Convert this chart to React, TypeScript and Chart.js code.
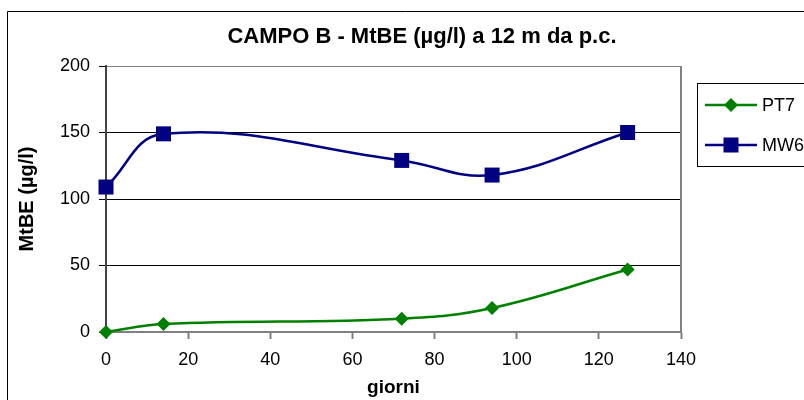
import React, { useEffect, useRef } from 'react';
import { Chart, registerables } from 'chart.js';

Chart.register(...registerables);

// ---- data ----
const days = [0, 14, 72, 94, 127];
const pt7Values = [0, 6, 10, 18, 47];
const mw6Values = [109, 149, 129, 118, 150];
const seriesNames = ['PT7', 'MW6'];
const chartTitle = 'CAMPO B - MtBE (µg/l) a 12 m da p.c.';
const xAxisTitle = 'giorni';
const yAxisTitle = 'MtBE (µg/l)';
const xRange = [0, 140];
const xStep = 20;
const yRange = [0, 200];
const yStep = 50;

const FONT = '"Liberation Sans", Arial, sans-serif';
const GREEN = '#008000';
const NAVY = '#000080';

const decor = {
  id: 'decor',
  beforeDatasetsDraw(chart: any) {
    const { ctx, chartArea } = chart;
    ctx.save();
    ctx.strokeStyle = '#808080';
    ctx.lineWidth = 2;
    ctx.beginPath();
    ctx.moveTo(chartArea.right, chartArea.top);
    ctx.lineTo(chartArea.right, chartArea.bottom);
    ctx.stroke();
    ctx.restore();
  },
  afterDraw(chart: any) {
    const { ctx } = chart;
    ctx.save();
    // outer frame
    ctx.strokeStyle = '#000';
    ctx.lineWidth = 1;
    ctx.beginPath();
    ctx.moveTo(7.5, 400);
    ctx.lineTo(7.5, 11.5);
    ctx.lineTo(804, 11.5);
    ctx.stroke();
    // title
    ctx.fillStyle = '#000';
    ctx.font = `bold 22px ${FONT}`;
    ctx.textAlign = 'center';
    ctx.textBaseline = 'alphabetic';
    ctx.fillText(chartTitle, 422, 43);
    // legend box
    ctx.strokeStyle = '#000';
    ctx.lineWidth = 1;
    ctx.strokeRect(697.5, 83.5, 200, 83);
    const rows = [105, 145];
    chart.data.datasets.forEach((ds: any, i: number) => {
      const y = rows[i];
      ctx.strokeStyle = ds.borderColor;
      ctx.lineWidth = 2.5;
      ctx.beginPath();
      ctx.moveTo(705, y);
      ctx.lineTo(757, y);
      ctx.stroke();
      ctx.fillStyle = ds.pointBackgroundColor;
      if (ds.pointStyle === 'rectRot') {
        const r = 7;
        ctx.beginPath();
        ctx.moveTo(731, y - r);
        ctx.lineTo(731 + r, y);
        ctx.lineTo(731, y + r);
        ctx.lineTo(731 - r, y);
        ctx.closePath();
        ctx.fill();
      } else {
        ctx.fillRect(731 - 7.5, y - 7.5, 15, 15);
      }
      ctx.fillStyle = '#000';
      ctx.font = `18px ${FONT}`;
      ctx.textAlign = 'left';
      ctx.textBaseline = 'middle';
      ctx.fillText(ds.label, 762, y + 1);
    });
    ctx.restore();
  },
};

export default function App() {
  const ref = useRef<HTMLCanvasElement>(null);
  useEffect(() => {
    if (!ref.current) return;
    const chart = new Chart(ref.current, {
      type: 'line',
      data: {
        datasets: [
          {
            label: seriesNames[0],
            data: days.map((d, i) => ({ x: d, y: pt7Values[i] })),
            borderColor: GREEN,
            backgroundColor: GREEN,
            pointBackgroundColor: GREEN,
            pointBorderColor: GREEN,
            pointStyle: 'rectRot',
            pointRadius: 7,
            pointBorderWidth: 0,
            borderWidth: 2.5,
            tension: 0.4,
            clip: false as any,
          },
          {
            label: seriesNames[1],
            data: days.map((d, i) => ({ x: d, y: mw6Values[i] })),
            borderColor: NAVY,
            backgroundColor: NAVY,
            pointBackgroundColor: NAVY,
            pointBorderColor: NAVY,
            pointStyle: 'rect',
            pointRadius: 10.6,
            pointBorderWidth: 0,
            borderWidth: 2.5,
            tension: 0.4,
            clip: false as any,
          },
        ],
      },
      options: {
        responsive: false,
        animation: false,
        devicePixelRatio: 1,
        layout: { padding: { top: 66, right: 123, left: 0, bottom: 0 } },
        plugins: {
          legend: { display: false },
          title: { display: false },
          tooltip: { enabled: false },
        },
        font: { family: FONT } as any,
        scales: {
          x: {
            type: 'linear',
            min: xRange[0],
            max: xRange[1],
            ticks: { stepSize: xStep, color: '#000', font: { family: FONT, size: 18 }, padding: 10, maxRotation: 0 },
            grid: { drawOnChartArea: false, drawTicks: true, tickLength: 7, tickColor: '#808080', tickWidth: 2 },
            border: { display: true, color: '#808080', width: 2 },
            title: { display: true, text: xAxisTitle, color: '#000', font: { family: FONT, size: 19, weight: 'bold' }, padding: { top: 0, bottom: 1 } },
            afterFit: (s: any) => { s.height = 68; },
          },
          y: {
            type: 'linear',
            min: yRange[0],
            max: yRange[1],
            ticks: { stepSize: yStep, color: '#000', font: { family: FONT, size: 18 }, padding: 9 },
            grid: {
              color: (c: any) => (c.tick && c.tick.value === yRange[1] ? '#808080' : '#000'),
              lineWidth: 1,
              drawTicks: true,
              tickLength: 7,
              tickColor: '#000',
            },
            border: { display: true, color: '#444', width: 2 },
            title: { display: true, text: yAxisTitle, color: '#000', font: { family: FONT, size: 20, weight: 'bold' }, padding: { top: 15, bottom: 0 } },
            afterFit: (s: any) => { s.width = 106; },
          },
        },
      },
      plugins: [decor],
    } as any);
    return () => chart.destroy();
  }, []);
  return (
    <div style={{ position: 'fixed', left: 0, top: 0, width: 804, height: 400, background: '#fff' }}>
      <canvas ref={ref} width={804} height={400} style={{ display: 'block', width: 804, height: 400 }} />
    </div>
  );
}
